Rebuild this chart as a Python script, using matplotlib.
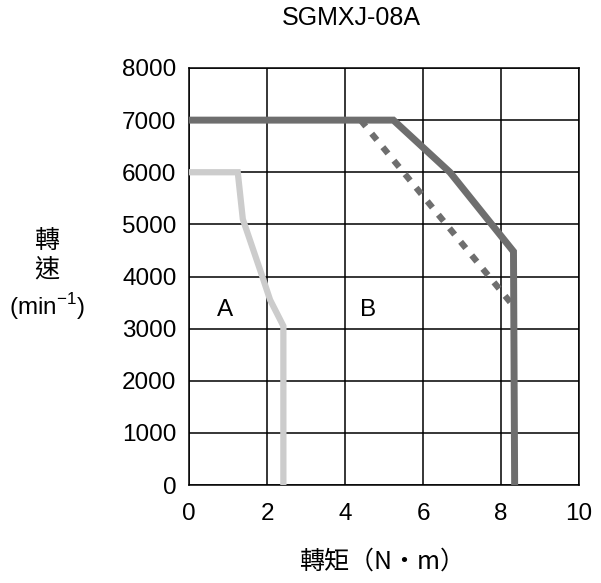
import matplotlib
matplotlib.use("Agg")
import matplotlib.pyplot as plt

# ---- data ----
x_ticks = [0, 2, 4, 6, 8, 10]
y_ticks = [0, 1000, 2000, 3000, 4000, 5000, 6000, 7000, 8000]

a_torque = [0, 1.25, 1.38, 1.88, 2.08, 2.42, 2.42]
a_speed = [6000, 6000, 5100, 4000, 3550, 3050, 0]

b_torque = [0, 5.24, 6.69, 8.32, 8.35]
b_speed = [7000, 7000, 6000, 4480, 0]

b2_torque = [4.4, 8.3]
b2_speed = [7000, 3450]

title = "SGMXJ-08A"
xlabel = "轉矩（N•m）"
ylabel_lines = ["轉", "速"]
ylabel_unit = r"(min$^{\mathregular{-1}}$)"

plt.rcParams['font.family'] = ['Liberation Sans', 'Noto Sans CJK TC', 'DejaVu Sans']
plt.rcParams['mathtext.fontset'] = 'custom'
plt.rcParams['mathtext.rm'] = 'Liberation Sans'

W, H = 601, 583
fig = plt.figure(figsize=(W / 100, H / 100), dpi=100)
ax = fig.add_axes([189 / W, 1 - 485 / H, (579 - 189) / W, (485 - 68) / H])

ax.set_xlim(0, 10)
ax.set_ylim(0, 8000)
ax.set_xticks(x_ticks)
ax.set_yticks(y_ticks)
ax.tick_params(length=0, labelsize=17.5)
ax.tick_params(axis='x', pad=13)
ax.tick_params(axis='y', pad=9)
ax.grid(True, color='black', linewidth=1.1)
for s in ax.spines.values():
    s.set_linewidth(1.1)
    s.set_color('black')

ax.plot(a_torque, a_speed, color='#cccccc', linewidth=4.5, solid_joinstyle='miter', zorder=3)
ax.plot(b2_torque, b2_speed, color='#6e6e6e', linewidth=4.5, linestyle=(0, (1.3, 1.5)),
        dash_capstyle='butt', zorder=3)
ax.plot(b_torque, b_speed, color='#6e6e6e', linewidth=5, solid_joinstyle='miter', zorder=4)

ax.text(0.92, 3350, "A", fontsize=17.5, ha='center', va='center')
ax.text(4.6, 3350, "B", fontsize=17.5, ha='center', va='center')

fig.text(351 / W, 1 - 18 / H, title, fontsize=18, ha='center', va='center')
fig.text(382 / W, 1 - 562 / H, xlabel, fontsize=18, ha='center', va='center',
         family=['Noto Sans CJK TC', 'DejaVu Sans'])
fig.text(47 / W, 1 - 241 / H, ylabel_lines[0], fontsize=18, ha='center', va='center',
         family=['Noto Sans CJK TC', 'DejaVu Sans'])
fig.text(47 / W, 1 - 269 / H, ylabel_lines[1], fontsize=18, ha='center', va='center',
         family=['Noto Sans CJK TC', 'DejaVu Sans'])
fig.text(47 / W, 1 - 307 / H, ylabel_unit, fontsize=17.5, ha='center', va='center')

fig.savefig("out.png", dpi=100)
